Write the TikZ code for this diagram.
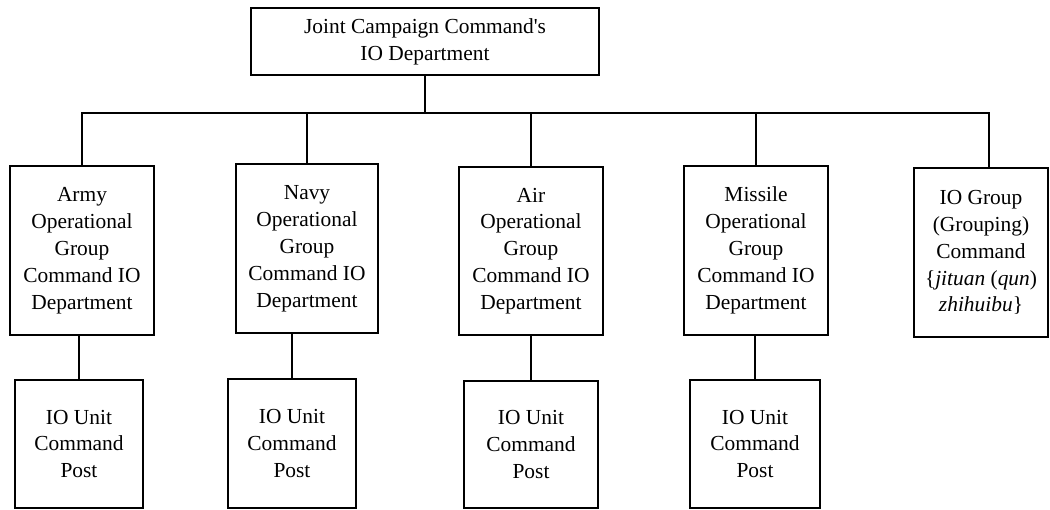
\documentclass[tikz,border=0pt]{standalone}
\usepackage{fontspec}
\setmainfont{Liberation Serif}
\usetikzlibrary{positioning}

\tikzset{
  caja/.style={draw, line width=1.8bp, align=center, inner sep=0pt,
    font=\fontsize{21.5}{27}\selectfont},
  linea/.style={line width=1.8bp}
}

\begin{document}
\begin{tikzpicture}[x=1bp, y=-1bp]
    \useasboundingbox (0,0) rectangle (1050,510);

    % Mando superior
    \node[caja, minimum width=348bp, minimum height=67bp] (jcc) at (425,41.5)
        {Joint Campaign Command\textquotesingle s\\IO Department};
    \coordinate (bus) at (425,113);

    % Departamentos
    \node[caja, minimum width=144bp, minimum height=169bp] (army) at (82,250.5)
        {Army\\Operational\\Group\\Command IO\\Department};
    \node[caja, minimum width=142bp, minimum height=169bp] (navy) at (307,248.5)
        {Navy\\Operational\\Group\\Command IO\\Department};
    \node[caja, minimum width=144bp, minimum height=168bp] (air) at (531,251)
        {Air\\Operational\\Group\\Command IO\\Department};
    \node[caja, minimum width=144bp, minimum height=169bp] (missile) at (756,250.5)
        {Missile\\Operational\\Group\\Command IO\\Department};
    \node[caja, minimum width=134bp, minimum height=169bp] (iog) at (981,252.5)
        {IO Group\\(Grouping)\\Command\\\{\textit{jituan} (\textit{qun})\\\textit{zhihuibu}\}};

    % Puestos de mando
    \node[caja, minimum width=128bp, minimum height=128bp] (armyu) at (79,444)
        {IO Unit\\Command\\Post};
    \node[caja, minimum width=128bp, minimum height=129bp] (navyu) at (292,443.5)
        {IO Unit\\Command\\Post};
    \node[caja, minimum width=134bp, minimum height=127bp] (airu) at (531,444.5)
        {IO Unit\\Command\\Post};
    \node[caja, minimum width=130bp, minimum height=128bp] (missileu) at (755,444)
        {IO Unit\\Command\\Post};

    % Lineas
    \draw[linea] (jcc.south) -- (bus);
    \draw[linea] (army.north) |- (bus) -| ([xshift=8bp]iog.north);
    \foreach \n in {navy,air,missile}
        \draw[linea] (\n.north) -- (\n.north |- bus);
    \foreach \n in {army,navy,air,missile}
        \draw[linea] (\n u.north) -- (\n u.north |- \n.south);

\end{tikzpicture}
\end{document}
